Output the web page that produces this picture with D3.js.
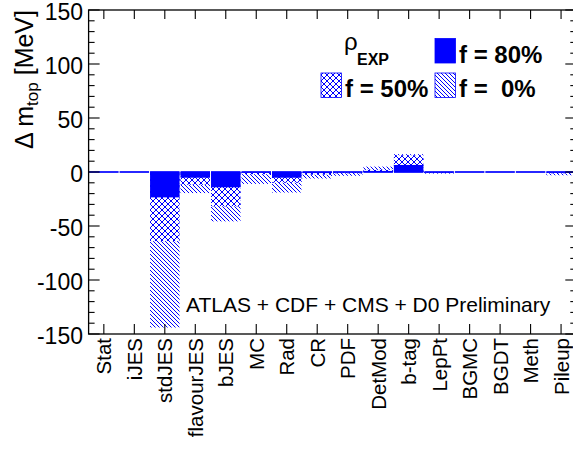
<!DOCTYPE html>
<html>
<head>
<meta charset="utf-8">
<script src="https://cdn.jsdelivr.net/npm/d3@7"></script>
<style>
  body { margin: 0; background: #fff; }
  svg { display: block; font-family: "Liberation Sans", Arial, sans-serif; }
</style>
</head>
<body>
<div id="chart"></div>
<script>
// systematic categories (x axis)
var categories = ['Stat', 'iJES', 'stdJES', 'flavourJES', 'bJES', 'MC', 'Rad', 'CR',
                  'PDF', 'DetMod', 'b-tag', 'LepPt', 'BGMC', 'BGDT', 'Meth', 'Pileup'];

// shift of m_top in MeV for each correlation assumption
var shift_f80 = [0, 0, -23.5, -5.3, -14.2, -0.5, -5.3, -1.0, -0.3, 1.0, 6.5, -0.5, 0, 0, 0, -0.5];
var shift_f50 = [0, 0, -64, -11.8, -31.8, -2.0, -10.0, -2.5, -1.2, 2.0, 15.5, -1.0, 0, 0, 0, -1.2];
var shift_f0  = [0, 0, -144, -19.5, -45.7, -11.0, -19.0, -6.0, -3.5, 5.0, 16.5, -1.5, 0, 0, 0, -3.0];

var y_ticks = [-150, -100, -50, 0, 50, 100, 150];

// Chart params (note: "top" is a reserved window property, so prefix everything)
var width       = 573;
var height      = 450;
var plot_left   = 88.6;
var plot_right  = 576.3; // frame runs a little past the window edge, like the original
var plot_top    = 10;
var plot_bottom = 334;
var blue        = '#0000ff';

var svg = d3.select('#chart')
    .append('svg')
    .attr('width', width)
    .attr('height', height);

// hatch patterns (ROOT style fill), aliased lines like the original
var defs = svg.append('defs');

var diag = defs.append('pattern')
    .attr('id', 'diag')
    .attr('patternUnits', 'userSpaceOnUse')
    .attr('width', 4)
    .attr('height', 4);
diag.append('rect').attr('width', 4).attr('height', 4).attr('fill', '#fff');
diag.append('path')
    .attr('d', 'M0,0L4,4M-1,3L1,5M3,-1L5,1')
    .attr('stroke', blue)
    .attr('stroke-width', 1.1)
    .attr('shape-rendering', 'crispEdges');

var cross = defs.append('pattern')
    .attr('id', 'cross')
    .attr('patternUnits', 'userSpaceOnUse')
    .attr('width', 6)
    .attr('height', 6);
cross.append('rect').attr('width', 6).attr('height', 6).attr('fill', '#fff');
cross.append('path')
    .attr('d', 'M0,0L6,6M6,0L0,6M-1,5L1,7M5,-1L7,1M-1,1L1,-1M5,7L7,5')
    .attr('stroke', blue)
    .attr('stroke-width', 1.1)
    .attr('shape-rendering', 'crispEdges');

// Create scales
var x_scale = d3.scaleBand()
    .domain(categories)
    .range([plot_left, plot_right])
    .padding(0);

var y_scale = d3.scaleLinear()
    .domain([-150, 150])
    .range([plot_bottom, plot_top]);

// rows of bars, drawn widest first so the narrower ones sit on top
var layers = [
    {values: shift_f0,  fill: 'url(#diag)'},
    {values: shift_f50, fill: 'url(#cross)'},
    {values: shift_f80, fill: blue}
];

layers.forEach(function(layer) {
    svg.append('g')
        .selectAll('rect')
        .data(layer.values)
        .enter()
        .append('rect')
        .attr('x', function(d, i) { return x_scale(categories[i]) + 0.5; })
        .attr('width', x_scale.bandwidth() - 1)
        .attr('y', function(d) { return y_scale(Math.max(d, 0)); })
        .attr('height', function(d) { return Math.abs(y_scale(d) - y_scale(0)); })
        .attr('fill', layer.fill);
});

// histogram line at zero
svg.append('g')
    .selectAll('line')
    .data(categories)
    .enter()
    .append('line')
    .attr('x1', function(d) { return x_scale(d) + 0.5; })
    .attr('x2', function(d) { return x_scale(d) + x_scale.bandwidth() - 0.5; })
    .attr('y1', y_scale(0))
    .attr('y2', y_scale(0))
    .attr('stroke', blue)
    .attr('stroke-width', 1.7);

// frame
svg.append('rect')
    .attr('x', plot_left)
    .attr('y', plot_top)
    .attr('width', plot_right - plot_left)
    .attr('height', plot_bottom - plot_top)
    .attr('fill', 'none')
    .attr('stroke', '#000')
    .attr('stroke-width', 1.3);

// y ticks, major every 50 and minor every 10, on both sides pointing inward
var minor_ticks = d3.range(-150, 151, 10);
var tick_g = svg.append('g').attr('stroke', '#000').attr('stroke-width', 1.1);

minor_ticks.forEach(function(v) {
    var len = (v % 50 === 0) ? 11 : 6;
    tick_g.append('line')
        .attr('x1', plot_left).attr('x2', plot_left + len)
        .attr('y1', y_scale(v)).attr('y2', y_scale(v));
    tick_g.append('line')
        .attr('x1', plot_right).attr('x2', plot_right - len)
        .attr('y1', y_scale(v)).attr('y2', y_scale(v));
});

// x ticks at bin centres, bottom and top
categories.forEach(function(c) {
    var cx = x_scale(c) + x_scale.bandwidth() / 2;
    tick_g.append('line')
        .attr('x1', cx).attr('x2', cx)
        .attr('y1', plot_bottom).attr('y2', plot_bottom - 10);
    tick_g.append('line')
        .attr('x1', cx).attr('x2', cx)
        .attr('y1', plot_top).attr('y2', plot_top + 9);
});

// y tick labels
svg.append('g')
    .selectAll('text')
    .data(y_ticks)
    .enter()
    .append('text')
    .attr('x', 83)
    .attr('y', function(d) { return y_scale(d) + 9.5; })
    .attr('text-anchor', 'end')
    .attr('font-size', '23px')
    .text(function(d) { return d; });

// x tick labels, rotated
svg.append('g')
    .selectAll('text')
    .data(categories)
    .enter()
    .append('text')
    .attr('transform', function(d) {
        var cx = x_scale(d) + x_scale.bandwidth() / 2;
        return 'translate(' + (cx + 7.5) + ',338) rotate(-90)';
    })
    .attr('text-anchor', 'end')
    .attr('font-size', '20.5px')
    .text(function(d) { return d; });

// y axis label
var y_label = svg.append('text')
    .attr('transform', 'translate(33,10) rotate(-90)')
    .attr('text-anchor', 'end')
    .attr('font-size', '25px');
y_label.append('tspan').text('\u0394 m');
y_label.append('tspan').attr('font-size', '17px').attr('dy', 5).text('top');
y_label.append('tspan').attr('dy', -5).text(' [MeV]');

// experiments note
svg.append('text')
    .attr('x', 186)
    .attr('y', 312)
    .attr('font-size', '21px')
    .text('ATLAS + CDF + CMS + D0 Preliminary');

// legend
var legend = svg.append('g');

legend.append('text')
    .attr('x', 344)
    .attr('y', 50)
    .attr('font-size', '24px')
    .text('\u03c1');
legend.append('text')
    .attr('x', 357)
    .attr('y', 65)
    .attr('font-size', '16px')
    .attr('font-weight', 'bold')
    .text('EXP');

var legend_items = [
    {x: 435, y: 38.5, fill: blue,          label: 'f = 80%'},
    {x: 321, y: 73,   fill: 'url(#cross)', label: 'f = 50%'},
    {x: 435, y: 73,   fill: 'url(#diag)',  label: 'f =  0%'}
];

legend_items.forEach(function(item) {
    legend.append('rect')
        .attr('x', item.x)
        .attr('y', item.y)
        .attr('width', 20.5)
        .attr('height', 24.5)
        .attr('fill', item.fill)
        .attr('stroke', blue)
        .attr('stroke-width', 0.8);
    legend.append('text')
        .attr('x', item.x + 24)
        .attr('y', item.y + 24)
        .attr('font-size', '24px')
        .attr('font-weight', 'bold')
        .style('white-space', 'pre')
        .text(item.label);
});
</script>
</body>
</html>
